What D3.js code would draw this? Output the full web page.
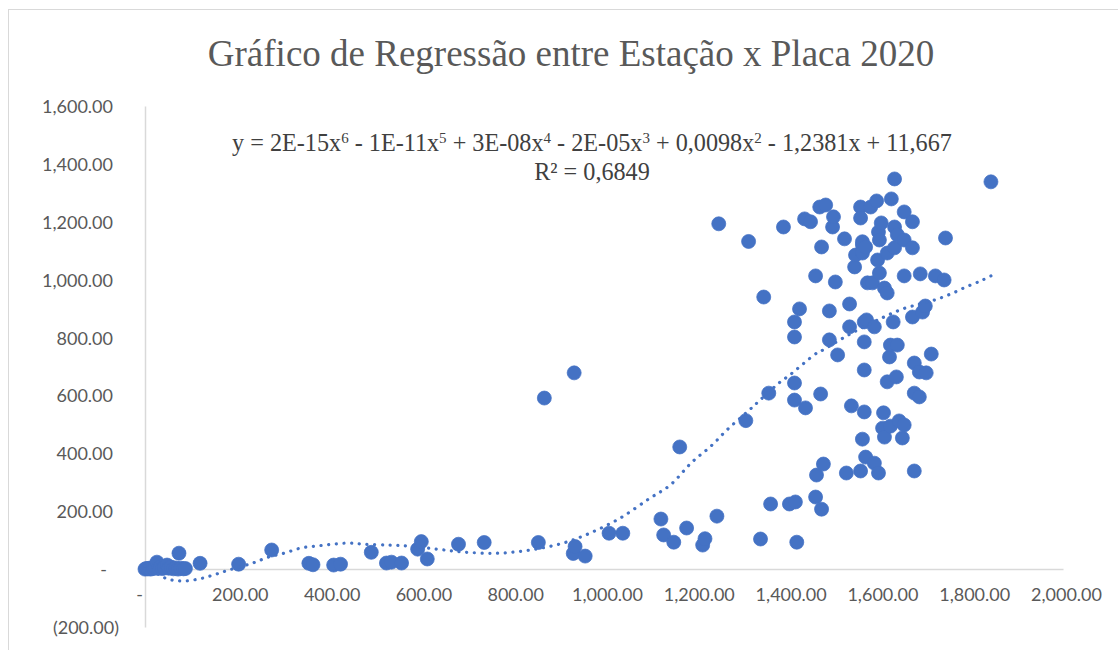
<!DOCTYPE html>
<html>
<head>
<meta charset="utf-8">
<script src="https://cdn.jsdelivr.net/npm/d3@7"></script>
<style>
    body { margin: 0; background: #fff; }
    .tick text { font-family: Lato, "Open Sans", sans-serif; font-size: 18px; fill: #595959; }
</style>
</head>
<body>
<div id="chart"></div>
<script>
// station (x) and plate (y) values
let stationX = [0, 3, 6, 9, 12, 15, 19, 22, 26, 30, 34, 38, 42, 48, 52, 57, 62, 67, 74, 72, 78, 84, 88, 120,
    204, 276, 357, 366, 411, 426, 493, 526, 537, 559, 594, 602, 615, 683, 739, 857, 870, 933, 937, 935, 959,
    1011, 1041, 1124, 1130, 1152, 1165, 1180, 1215, 1220, 1246, 1250, 1309, 1315, 1341, 1348, 1359, 1363,
    1391, 1404, 1415, 1415, 1415, 1415, 1417, 1420, 1426, 1437, 1439, 1450, 1461, 1461, 1463, 1470, 1472,
    1474, 1474, 1478, 1483, 1491, 1491, 1498, 1500, 1504, 1509, 1524, 1528, 1535, 1535, 1539, 1546, 1548,
    1559, 1559, 1559, 1563, 1563, 1563, 1563, 1567, 1567, 1567, 1567, 1570, 1570, 1572, 1574, 1581, 1585,
    1589, 1589, 1594, 1596, 1598, 1598, 1600, 1600, 1604, 1607, 1609, 1611, 1611, 1617, 1617, 1617, 1622,
    1624, 1624, 1626, 1630, 1633, 1633, 1633, 1637, 1639, 1639, 1643, 1650, 1654, 1654, 1654, 1654, 1672,
    1672, 1672, 1676, 1676, 1676, 1687, 1687, 1689, 1694, 1700, 1702, 1713, 1722, 1741, 1744, 1843]
let plateY = [0, 2, 1, 3, 0, 4, 2, 6, 24, 3, 8, 2, 5, 14, 3, 7, 1, 4, 55, 0, 3, 1, 2, 20,
    17, 66, 20, 15, 14, 17, 58, 21, 24, 21, 69, 95, 35, 86, 92, 92, 591, 54, 78, 678, 45,
    124, 124, 173, 118, 93, 422, 142, 83, 105, 183, 1193, 513, 1132, 104, 940, 608, 225,
    1182, 225, 854, 802, 643, 584, 232, 93, 899, 1210, 557, 1200, 1013, 249, 325, 1251, 605,
    1113, 207, 363, 1258, 892, 792, 1182, 1217, 992, 740, 1141, 332, 916, 837, 564, 1044, 1085,
    1251, 1213, 339, 1120, 1131, 1092, 449, 854, 785, 688, 543, 1113, 387, 861, 989, 1251, 989,
    837, 366, 1272, 1068, 1165, 332, 1137, 1023, 1196, 487, 540, 971, 456, 1092, 954, 647, 733,
    774, 494, 1279, 854, 1348, 1182, 1110, 664, 1155, 774, 512, 453, 1234, 1137, 1013, 498, 1200,
    1110, 871, 712, 608, 339, 681, 595, 1020, 888, 909, 678, 743, 1013, 999, 1144, 1338]

// polynomial trendline (order 6)
let trendX = [0, 44, 78, 115, 148, 183, 235, 268, 303, 340, 375, 410, 444, 479, 534, 571, 636, 693, 767, 839,
    911, 969, 1035, 1100, 1144, 1192, 1233, 1270, 1312, 1338, 1379, 1405, 1434, 1464, 1477, 1536, 1606, 1651,
    1688, 1721, 1756, 1789, 1821, 1843]
let trendY = [12, -31, -41, -35, -21, -3, 21, 41, 55, 73, 80, 86, 90, 86, 83, 80, 69, 59, 55, 66,
    90, 124, 176, 245, 290, 370, 425, 484, 543, 581, 640, 671, 709, 747, 757, 812, 868, 899,
    916, 930, 951, 975, 996, 1013]

let xTicks = [0, 200, 400, 600, 800, 1000, 1200, 1400, 1600, 1800, 2000]
let yTicks = [-200, 0, 200, 400, 600, 800, 1000, 1200, 1400, 1600]

let chartTitle = "Gráfico de Regressão entre Estação x Placa 2020"

let width = 1118, height = 650
let svg = d3.select("#chart").append("svg")
    .attr("width", width)
    .attr("height", height)

// chart area border
svg.append("rect")
    .attr("x", 8.5).attr("y", 9.5)
    .attr("width", width).attr("height", height)
    .attr("fill", "none")
    .attr("stroke", "#d9d9d9")

let x = d3.scaleLinear().domain([0, 2000]).range([145, 1063])
let y = d3.scaleLinear().domain([-200, 1600]).range([627, 106])

let num = d3.format(",.2f")
let acct = d => d === 0 ? "-" : d < 0 ? "(" + num(-d) + ")" : num(d)

// x axis sits on y = 0
let xAxis = svg.append("g")
    .attr("transform", `translate(0, ${y(0)})`)
    .call(d3.axisBottom(x).tickValues(xTicks).tickFormat(acct).tickSize(0).tickPadding(19))
xAxis.select(".domain").attr("stroke", "#d9d9d9").attr("stroke-width", 1.5)
xAxis.selectAll(".tick text").attr("dx", d => d === 0 ? -6 : 3)

let yAxis = svg.append("g")
    .attr("transform", `translate(${x(0)}, 0)`)
    .call(d3.axisLeft(y).tickValues(yTicks).tickFormat(acct).tickSize(0).tickPadding(32))
yAxis.select(".domain").attr("stroke", "#d9d9d9").attr("stroke-width", 1.5)
yAxis.selectAll(".tick text")
    .attr("dx", d => d < 0 ? 6 : d === 0 ? -6 : 0)
    .attr("dy", "0.36em")

// markers
let points = stationX.map((d, i) => ({x: d, y: plateY[i]}))
svg.append("g")
    .selectAll("circle")
    .data(points)
    .enter()
    .append("circle")
    .attr("cx", d => x(d.x))
    .attr("cy", d => y(d.y))
    .attr("r", 7)
    .attr("fill", "#4472c4")
    .attr("stroke", "#4472c4")
    .attr("stroke-width", 0.75)

// dotted trendline
let trend = trendX.map((d, i) => [d, trendY[i]])
svg.append("path")
    .datum(trend)
    .attr("fill", "none")
    .attr("stroke", "#4472c4")
    .attr("stroke-width", 3.2)
    .attr("stroke-linecap", "round")
    .attr("stroke-dasharray", "0.1 7.6")
    .attr("d", d3.line().x(d => x(d[0])).y(d => y(d[1])).curve(d3.curveCatmullRom))

// title
svg.append("text")
    .attr("x", 571)
    .attr("y", 66)
    .attr("text-anchor", "middle")
    .style("font-family", "'Liberation Serif', 'Times New Roman', serif")
    .style("font-size", "37px")
    .style("fill", "#595959")
    .text(chartTitle)

// trendline equation, exponents as raised tspans
let eqParts = [["y = 2E-15x", "6"], [" - 1E-11x", "5"], [" + 3E-08x", "4"], [" - 2E-05x", "3"],
    [" + 0,0098x", "2"], [" - 1,2381x + 11,667", ""]]
let eq = svg.append("text")
    .attr("x", 592)
    .attr("y", 151)
    .attr("text-anchor", "middle")
    .style("font-family", "'Liberation Serif', 'Times New Roman', serif")
    .style("font-size", "24.2px")
    .style("fill", "#404040")
let raised = false
eqParts.forEach(function (p) {
    eq.append("tspan").attr("dy", raised ? 8 : 0).text(p[0])
    raised = false
    if (p[1]) {
        eq.append("tspan").attr("dy", -8).style("font-size", "15px").text(p[1])
        raised = true
    }
})
svg.append("text")
    .attr("x", 592)
    .attr("y", 180)
    .attr("text-anchor", "middle")
    .style("font-family", "'Liberation Serif', 'Times New Roman', serif")
    .style("font-size", "24.2px")
    .style("fill", "#404040")
    .text("R² = 0,6849")
</script>
</body>
</html>
